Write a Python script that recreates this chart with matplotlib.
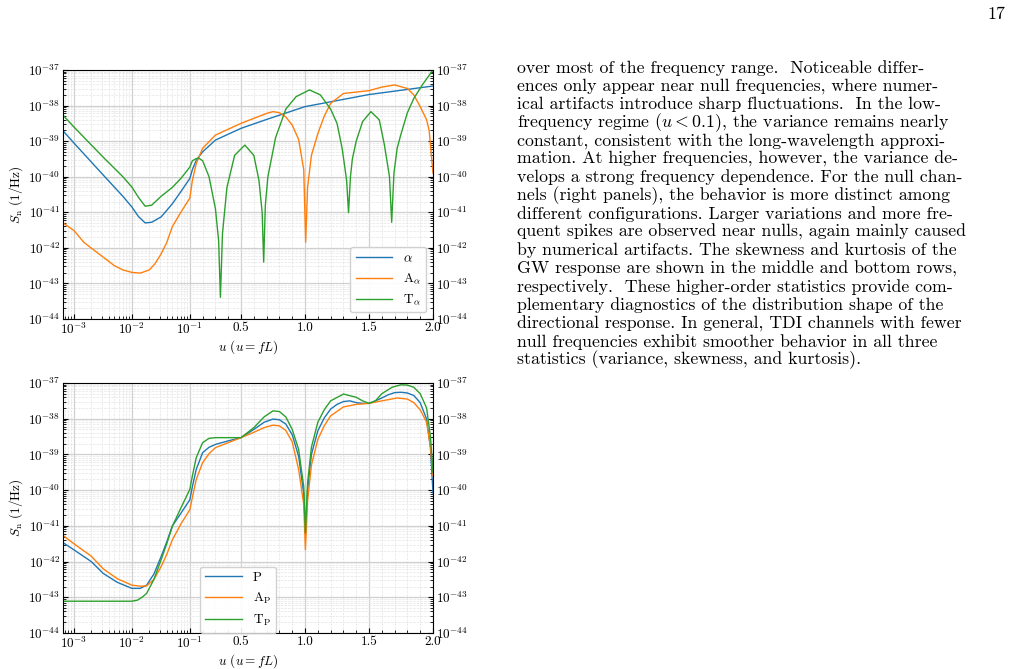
import matplotlib
matplotlib.use('Agg')
import matplotlib.pyplot as plt
import numpy as np

plt.rcParams['font.family'] = ['cmr10', 'DejaVu Serif']
plt.rcParams['mathtext.fontset'] = 'cm'
plt.rcParams['axes.unicode_minus'] = False
plt.rcParams['axes.formatter.use_mathtext'] = True

# ---- data: u values and log10 S_n ----
# top panel
u_a = [6.5e-4, 1e-3, 3.2e-3, 7e-3, 1e-2, 1.3e-2, 1.7e-2, 2.2e-2, 3.2e-2, 5e-2, 7e-2, 0.1, 0.12, 0.15, 0.2,
       0.3, 0.5, 0.7, 1.0, 1.5, 2.0]
s_a = [-38.71, -39.05, -39.95, -40.55, -40.85, -41.12, -41.3, -41.28, -41.13, -40.76, -40.42, -40.05, -39.8,
       -39.54, -39.3, -38.97, -38.64, -38.39, -38.03, -37.69, -37.45]

u_A = [6.5e-4, 1e-3, 1.5e-3, 3.2e-3, 5e-3, 7e-3, 1e-2, 1.4e-2, 2e-2, 2.5e-2, 3.2e-2, 4e-2, 5e-2, 7e-2,
       0.1, 0.12, 0.15, 0.2, 0.3, 0.5, 0.7, 0.75, 0.8, 0.85, 0.9,
       0.95, 0.99, 1.005, 1.02, 1.05, 1.1, 1.15, 1.2, 1.3, 1.4, 1.5, 1.6, 1.7, 1.8, 1.85, 1.9, 1.95, 1.97, 2.0]
s_A = [-41.30, -41.51, -41.85, -42.26, -42.5, -42.62, -42.69, -42.71, -42.62, -42.45, -42.17, -41.85,
       -41.40, -41.0, -40.60, -40.1, -39.63, -39.20, -38.83, -38.50, -38.22, -38.17, -38.2, -38.32, -38.55,
       -38.95, -39.8, -41.84, -40.3, -39.4, -38.79, -38.3, -37.94, -37.66, -37.62, -37.58, -37.48, -37.42,
       -37.52, -37.7, -38.03, -38.4, -38.7, -39.9]

u_T = [6.5e-4, 1e-3, 3.2e-3, 7e-3, 1e-2, 1.3e-2, 1.7e-2, 2.2e-2, 3.2e-2, 5e-2, 7e-2, 0.1, 0.12, 0.15, 0.17, 0.2,
       0.25, 0.3, 0.325, 0.339,
       0.355, 0.39, 0.45, 0.53, 0.6, 0.64, 0.665, 0.677,
       0.69, 0.71, 0.77, 0.85, 0.93, 1.035, 1.12, 1.2, 1.25, 1.29, 1.325, 1.34,
       1.355, 1.37, 1.4, 1.45, 1.515, 1.58, 1.62, 1.66, 1.677,
       1.695, 1.72, 1.75, 1.8, 1.85, 1.92, 2.0]
s_T = [-38.27, -38.6, -39.45, -40.0, -40.29, -40.58, -40.83, -40.8, -40.55, -40.3, -40.05, -39.73, -39.55, -39.49,
       -39.48, -39.55, -40.0, -40.9, -41.8, -43.39,
       -41.6, -40.3, -39.4, -39.11, -39.4, -40.1, -41.0, -42.4,
       -40.8, -40.0, -38.9, -38.1, -37.75, -37.56, -37.7, -38.1, -38.5, -39.2, -40.1, -41.01,
       -40.0, -39.5, -39.0, -38.45, -38.17, -38.4, -39.1, -40.0, -41.28,
       -39.9, -39.2, -38.8, -38.2, -37.8, -37.4, -37.0]

# bottom panel
u_P = [6.5e-4, 1e-3, 2e-3, 3.2e-3, 5.6e-3, 1e-2, 1.4e-2, 1.8e-2, 2.4e-2, 3.2e-2, 4e-2, 5e-2, 7e-2, 0.1,
       0.12, 0.15, 0.2, 0.25, 0.3, 0.4, 0.5, 0.6, 0.68, 0.75, 0.8, 0.85, 0.9,
       0.95, 0.99, 1.003, 1.02, 1.05, 1.1, 1.15, 1.2, 1.25, 1.3, 1.35, 1.4, 1.45, 1.5, 1.55, 1.6, 1.65,
       1.7, 1.75, 1.8, 1.85, 1.9, 1.95, 1.98, 2.0]
s_P = [-41.47, -41.67, -42.0, -42.33, -42.58, -42.75, -42.75, -42.66, -42.35, -41.86, -41.45, -41.0,
       -40.65, -40.27, -39.9, -39.42, -38.95, -38.8, -38.72, -38.62, -38.53, -38.3, -38.1, -38.01, -38.03,
       -38.15, -38.45, -39.05, -40.1, -41.2, -40.0, -39.0, -38.34, -37.98, -37.73, -37.6, -37.52, -37.5,
       -37.55, -37.57, -37.57, -37.5, -37.42, -37.33, -37.27, -37.26, -37.28, -37.35, -37.55, -38.01,
       -38.8, -40.08]

u_AP = [6.5e-4, 1e-3, 2e-3, 3.2e-3, 5.6e-3, 1e-2, 1.4e-2, 1.8e-2, 2.4e-2, 3.2e-2, 4e-2, 5e-2, 7e-2, 0.1,
        0.12, 0.15, 0.2, 0.25, 0.3, 0.5, 0.6, 0.68, 0.75, 0.8, 0.85, 0.9,
        0.95, 0.99, 1.003, 1.02, 1.05, 1.1, 1.15, 1.2, 1.3, 1.4, 1.5, 1.6, 1.72, 1.8, 1.85, 1.9, 1.95,
        1.98, 2.0]
s_AP = [-41.27, -41.5, -41.85, -42.2, -42.48, -42.66, -42.69, -42.68, -42.5, -42.14, -41.8, -41.39,
        -40.95, -40.55, -40.2, -39.7, -39.23, -38.98, -38.81, -38.53, -38.38, -38.25, -38.18, -38.2,
        -38.33, -38.65, -39.42, -40.4, -41.67, -40.3, -39.3, -38.58, -38.2, -37.92, -37.67, -37.6,
        -37.57, -37.5, -37.42, -37.45, -37.55, -37.75, -38.1, -38.8, -39.6]

u_TP = [6.5e-4, 1e-3, 3.2e-3, 1e-2, 1.25e-2, 1.5e-2, 1.8e-2, 2.4e-2, 3.2e-2, 4e-2, 5e-2, 7e-2, 0.1,
        0.12, 0.15, 0.2, 0.25, 0.3, 0.4, 0.5, 0.6, 0.68,
        0.75, 0.8, 0.85, 0.9, 0.95, 0.99, 1.003, 1.02, 1.05, 1.1, 1.15, 1.2, 1.3, 1.4, 1.45, 1.5, 1.55,
        1.6, 1.68, 1.75, 1.8, 1.85, 1.9, 1.95, 1.98, 2.0]
s_TP = [-43.11, -43.11, -43.11, -43.11, -43.08, -43.0, -42.89, -42.5, -41.95, -41.5, -41.01, -40.5,
        -39.98, -39.6, -39.09, -38.67, -38.55, -38.53, -38.53, -38.53, -38.25, -37.95,
        -37.78, -37.8, -37.95, -38.3, -38.86, -39.9, -41.2, -39.8, -38.8, -38.1, -37.75, -37.5, -37.31,
        -37.4, -37.5, -37.57, -37.5, -37.3, -37.12, -37.05, -37.06, -37.12, -37.3, -37.7, -38.5, -39.5]

paragraph = [
    "over most of the frequency range.  Noticeable differ-",
    "ences only appear near null frequencies, where numer-",
    "ical artifacts introduce sharp fluctuations.  In the low-",
    "frequency regime ($u < 0.1$), the variance remains nearly",
    "constant, consistent with the long-wavelength approxi-",
    "mation. At higher frequencies, however, the variance de-",
    "velops a strong frequency dependence. For the null chan-",
    "nels (right panels), the behavior is more distinct among",
    "different configurations. Larger variations and more fre-",
    "quent spikes are observed near nulls, again mainly caused",
    "by numerical artifacts. The skewness and kurtosis of the",
    "GW response are shown in the middle and bottom rows,",
    "respectively.  These higher-order statistics provide com-",
    "plementary diagnostics of the distribution shape of the",
    "directional response. In general, TDI channels with fewer",
    "null frequencies exhibit smoother behavior in all three",
    "statistics (variance, skewness, and kurtosis).",
]


# log below u=0.1, linear above
K = 128.0 / 58.0


def fwd(u):
    u = np.asarray(u, dtype=float)
    uu = np.clip(u, 1e-12, None)
    return np.where(u <= 0.1, np.log10(uu) + 1, (u - 0.1) * K)


def inv(x):
    x = np.asarray(x, dtype=float)
    return np.where(x <= 0, 10 ** (np.minimum(x, 0) - 1), x / K + 0.1)


def setup(ax, series, labels, legend_loc):
    colors = ['#1f77b4', '#ff7f0e', '#2ca02c']
    for (u, s), lab, c in zip(series, labels, colors):
        ax.plot(u, 10.0 ** np.array(s), color=c, lw=1.0, label=lab)
    ax.set_xscale('function', functions=(fwd, inv))
    ax.set_yscale('log')
    ax.set_xlim(6.5e-4, 2.0)
    ax.set_ylim(1e-44, 1e-37)
    ax.set_xticks([1e-3, 1e-2, 1e-1, 0.5, 1.0, 1.5, 2.0])
    ax.set_xticklabels([r'$10^{-3}$', r'$10^{-2}$', r'$10^{-1}$', '0.5', '1.0', '1.5', '2.0'])
    minor = [m * 10.0 ** e for e in (-4, -3, -2) for m in range(2, 10) if m * 10.0 ** e > 6.5e-4]
    minor += [0.1 + 0.1 * k for k in range(1, 19) if k % 5 != 4]
    ax.set_xticks(minor, minor=True)
    ax.set_yticks([10.0 ** e for e in range(-44, -36)])
    ax.set_yticklabels([r'$10^{%d}$' % e for e in range(-44, -36)])
    ax.tick_params(which='both', direction='in', right=True, labelright=True, labelsize=9.5, pad=2)
    ax.grid(True, which='major', color='#d0d0d0', lw=0.9)
    ax.grid(True, which='minor', color='#e4e4e4', lw=0.5, ls='--')
    ax.set_ylabel(r'$S_{\rm n}$ (1/Hz)', fontsize=9.5, labelpad=2)
    ax.set_xlabel(r'$u$ ($u = fL$)', fontsize=9.5, labelpad=1)
    ax.legend(loc=legend_loc, fontsize=9.5, handlelength=2.8, framealpha=0.9, fancybox=True)


fig = plt.figure(figsize=(10.13, 6.69), dpi=100)
W, H = 1013.0, 669.0
ax1 = fig.add_axes([63 / W, 1 - 319 / H, 370 / W, 249 / H])
ax2 = fig.add_axes([63 / W, 1 - 633 / H, 370 / W, 250 / H])

setup(ax1, [(u_a, s_a), (u_A, s_A), (u_T, s_T)],
      [r'$\mathrm{\alpha}$', r'A$_\alpha$', r'T$_\alpha$'], 'lower right')
setup(ax2, [(u_P, s_P), (u_AP, s_AP), (u_TP, s_TP)],
      ['P', r'A$_{\rm P}$', r'T$_{\rm P}$'], (0.37, 0.0))

fig.text(1005 / W, 1 - 14 / H, '17', ha='right', va='center', fontsize=13)
for i, line in enumerate(paragraph):
    fig.text(517 / W, 1 - (68 + i * 18.25) / H, line, ha='left', va='center', fontsize=12.8)

fig.savefig('out.png', dpi=100)
